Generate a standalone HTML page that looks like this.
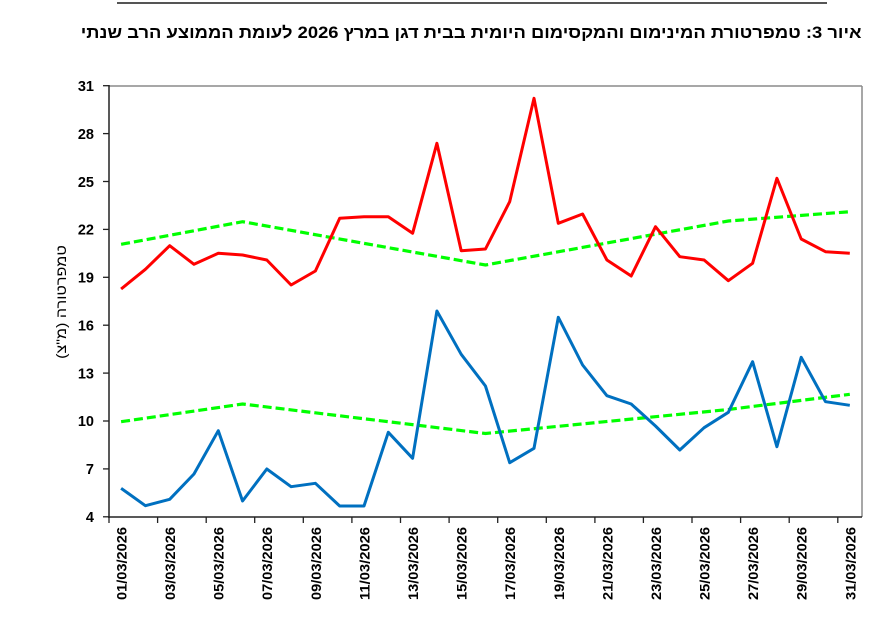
<!DOCTYPE html>
<html>
<head>
<meta charset="utf-8">
<style>
html,body{margin:0;padding:0;background:#fff;}
body{width:889px;height:622px;position:relative;overflow:hidden;font-family:"Liberation Sans","DejaVu Sans",sans-serif;}
#title{position:absolute;right:27px;top:23px;width:850px;text-align:right;direction:rtl;font-weight:bold;font-size:16.5px;line-height:20px;color:#000;white-space:nowrap;}
#title span{display:inline-block;transform:scaleX(1.113);transform-origin:100% 50%;}
svg{position:absolute;left:0;top:0;}
</style>
</head>
<body>
<svg width="889" height="622" viewBox="0 0 889 622" xmlns="http://www.w3.org/2000/svg">
  <line x1="117" y1="3" x2="827" y2="3" stroke="#555" stroke-width="2"/>
  <line x1="109" y1="86" x2="862" y2="86" stroke="#8a8a8a" stroke-width="1.5"/>
  <line x1="862" y1="86" x2="862" y2="517" stroke="#8a8a8a" stroke-width="1.5"/>
  <line x1="109" y1="85" x2="109" y2="518" stroke="#222" stroke-width="1.5"/>
  <line x1="108" y1="517" x2="862" y2="517" stroke="#222" stroke-width="1.5"/>
  <g stroke="#222" stroke-width="1.3">
    <line x1="103" y1="85.7" x2="109" y2="85.7"/>
    <line x1="103" y1="133.6" x2="109" y2="133.6"/>
    <line x1="103" y1="181.5" x2="109" y2="181.5"/>
    <line x1="103" y1="229.4" x2="109" y2="229.4"/>
    <line x1="103" y1="277.3" x2="109" y2="277.3"/>
    <line x1="103" y1="325.2" x2="109" y2="325.2"/>
    <line x1="103" y1="373.1" x2="109" y2="373.1"/>
    <line x1="103" y1="421" x2="109" y2="421"/>
    <line x1="103" y1="468.9" x2="109" y2="468.9"/>
    <line x1="103" y1="516.8" x2="109" y2="516.8"/>
  </g>
  <g font-family="Liberation Sans, DejaVu Sans, sans-serif" font-weight="bold" font-size="14.5" text-anchor="end" fill="#000">
    <text x="94" y="91">31</text>
    <text x="94" y="139">28</text>
    <text x="94" y="187">25</text>
    <text x="94" y="234.5">22</text>
    <text x="94" y="282.5">19</text>
    <text x="94" y="330.5">16</text>
    <text x="94" y="378.5">13</text>
    <text x="94" y="426">10</text>
    <text x="94" y="474">7</text>
    <text x="94" y="522">4</text>
  </g>
  <g stroke="#222" stroke-width="1.3">
    <line x1="109" y1="517" x2="109" y2="523"/>
    <line x1="157.6" y1="517" x2="157.6" y2="523"/>
    <line x1="206.2" y1="517" x2="206.2" y2="523"/>
    <line x1="254.7" y1="517" x2="254.7" y2="523"/>
    <line x1="303.3" y1="517" x2="303.3" y2="523"/>
    <line x1="351.9" y1="517" x2="351.9" y2="523"/>
    <line x1="400.5" y1="517" x2="400.5" y2="523"/>
    <line x1="449.1" y1="517" x2="449.1" y2="523"/>
    <line x1="497.7" y1="517" x2="497.7" y2="523"/>
    <line x1="546.3" y1="517" x2="546.3" y2="523"/>
    <line x1="594.9" y1="517" x2="594.9" y2="523"/>
    <line x1="643.4" y1="517" x2="643.4" y2="523"/>
    <line x1="692" y1="517" x2="692" y2="523"/>
    <line x1="740.6" y1="517" x2="740.6" y2="523"/>
    <line x1="789.2" y1="517" x2="789.2" y2="523"/>
    <line x1="837.8" y1="517" x2="837.8" y2="523"/>
  </g>
  <g font-family="Liberation Sans, DejaVu Sans, sans-serif" font-weight="bold" font-size="14" text-anchor="end" fill="#000">
    <text transform="translate(126.5,527) rotate(-90)" textLength="73" lengthAdjust="spacingAndGlyphs">01/03/2026</text>
    <text transform="translate(175.1,527) rotate(-90)" textLength="73" lengthAdjust="spacingAndGlyphs">03/03/2026</text>
    <text transform="translate(223.7,527) rotate(-90)" textLength="73" lengthAdjust="spacingAndGlyphs">05/03/2026</text>
    <text transform="translate(272.2,527) rotate(-90)" textLength="73" lengthAdjust="spacingAndGlyphs">07/03/2026</text>
    <text transform="translate(320.8,527) rotate(-90)" textLength="73" lengthAdjust="spacingAndGlyphs">09/03/2026</text>
    <text transform="translate(369.4,527) rotate(-90)" textLength="73" lengthAdjust="spacingAndGlyphs">11/03/2026</text>
    <text transform="translate(418,527) rotate(-90)" textLength="73" lengthAdjust="spacingAndGlyphs">13/03/2026</text>
    <text transform="translate(466.6,527) rotate(-90)" textLength="73" lengthAdjust="spacingAndGlyphs">15/03/2026</text>
    <text transform="translate(515.2,527) rotate(-90)" textLength="73" lengthAdjust="spacingAndGlyphs">17/03/2026</text>
    <text transform="translate(563.8,527) rotate(-90)" textLength="73" lengthAdjust="spacingAndGlyphs">19/03/2026</text>
    <text transform="translate(612.4,527) rotate(-90)" textLength="73" lengthAdjust="spacingAndGlyphs">21/03/2026</text>
    <text transform="translate(660.9,527) rotate(-90)" textLength="73" lengthAdjust="spacingAndGlyphs">23/03/2026</text>
    <text transform="translate(709.5,527) rotate(-90)" textLength="73" lengthAdjust="spacingAndGlyphs">25/03/2026</text>
    <text transform="translate(758.1,527) rotate(-90)" textLength="73" lengthAdjust="spacingAndGlyphs">27/03/2026</text>
    <text transform="translate(806.7,527) rotate(-90)" textLength="73" lengthAdjust="spacingAndGlyphs">29/03/2026</text>
    <text transform="translate(855.3,527) rotate(-90)" textLength="73" lengthAdjust="spacingAndGlyphs">31/03/2026</text>
  </g>
  <text transform="translate(66,302) rotate(-90) scale(1.15,1)" font-family="Liberation Sans, DejaVu Sans, sans-serif" font-size="14" text-anchor="middle" direction="rtl" fill="#000">טמפרטורה (מ"צ)</text>

  <polyline fill="none" stroke="#00FF00" stroke-width="3.2" stroke-dasharray="9 4"
    points="121.1,244.3 242.55,221.7 485.45,265 728.35,221 849.8,211.7"/>
  <polyline fill="none" stroke="#00FF00" stroke-width="3.2" stroke-dasharray="9 4"
    points="121.1,421.7 242.55,404 485.45,433.5 728.35,409.5 849.8,394.3"/>

  <polyline fill="none" stroke="#FF0000" stroke-width="3" stroke-linejoin="round"
    points="121.1,289 145.4,269.3 169.7,245.7 193.97,264.3 218.3,253.3 242.55,255 266.8,260 291.1,285 315.4,271 339.7,218.3 364,216.7 388.3,216.7 412.6,233.3 436.9,143.3 461.2,250.7 485.45,249 509.7,201.7 534,98.3 558.3,223.3 582.6,214 606.9,260 631.2,276 655.5,226.7 679.8,256.7 704.1,260 728.35,280.7 752.6,263.3 776.9,178.3 801.2,239 825.5,251.7 849.8,253.3"/>
  <polyline fill="none" stroke="#0070C0" stroke-width="3" stroke-linejoin="round"
    points="121.1,488.3 145.4,505.7 169.7,499.3 193.97,474 218.3,430.7 242.55,501 266.8,469 291.1,486.7 315.4,483.3 339.7,506 364,506 388.3,432.3 412.6,458.3 436.9,311 461.2,354.3 485.45,386 509.7,462.7 534,448.3 558.3,317.3 582.6,365 606.9,395.7 631.2,404 655.5,426 679.8,450 704.1,427.7 728.35,412.3 752.6,361.7 776.9,446.7 801.2,357.3 825.5,401.7 849.8,405.3"/>
</svg>
<div id="title"><span>איור 3: טמפרטורת המינימום והמקסימום היומית בבית דגן במרץ 2026 לעומת הממוצע הרב שנתי</span></div>
</body>
</html>
